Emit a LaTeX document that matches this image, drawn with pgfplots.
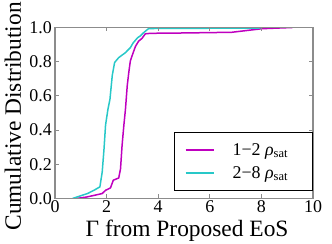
\documentclass[border=0pt]{standalone}
\usepackage{fontspec}
\setmainfont{Liberation Serif}
\usepackage{pgfplots}
\pgfplotsset{compat=1.18}
\definecolor{mm}{RGB}{191,0,191}
\definecolor{cc}{RGB}{40,200,200}
\definecolor{spine}{RGB}{140,140,140}
\begin{document}
\begin{tikzpicture}
\begin{axis}[
 name=ax, at={(0,0)}, anchor=south west,
 scale only axis, width=258bp, height=171bp,
 xmin=0, xmax=10, ymin=0, ymax=1,
 xtick={0,2,4,6,8,10}, ytick={0,0.2,0.4,0.6,0.8,1.0},
 y tick label style={/pgf/number format/fixed, /pgf/number format/fixed zerofill, /pgf/number format/precision=1},
 /pgf/number format/assume math mode=true,
 axis on top,
 tick align=inside, major tick length=4bp,
 every tick/.style={spine, line width=0.8bp},
 axis line style={spine, line width=1.5bp},
 tick label style={font=\fontsize{18}{18}\selectfont},
 x tick label style={anchor=north, inner sep=0pt, yshift=-2bp},
 y tick label style={anchor=east, inner sep=0pt, xshift=-3bp},
 label style={font=\fontsize{23.5}{23.5}\selectfont},
 xlabel={Γ from Proposed EoS},
 ylabel={Cumulative Distribution},
 xlabel style={at={(axis description cs:0.512,-0.225)}, anchor=base},
 ylabel style={at={(axis description cs:-0.163,0.48)}, anchor=center},
 legend style={at={(rel axis cs:1,0.045)}, anchor=south east, draw=black, line width=0.8bp, fill=white, inner xsep=0pt, inner ysep=6bp, row sep=0pt, column sep=0pt, font=\fontsize{18}{18}\selectfont, nodes={inner sep=0pt}},
 legend cell align=left,
 legend image code/.code={\path[draw=none,fill=none] (0bp,-11.5bp) rectangle (58bp,11.5bp); \draw[#1, line width=1.8bp] (11bp,0bp) -- (39bp,0bp);},
]
\addplot[mm, line width=1.5bp] coordinates {
(0.81,0) (1.2,0.008) (1.45,0.016) (1.83,0.029) (1.96,0.048) (2.15,0.062) (2.26,0.107) (2.47,0.12) (2.54,0.174) (2.6,0.31) (2.67,0.43) (2.73,0.52) (2.8,0.66) (2.86,0.737) (2.92,0.804) (3.03,0.853) (3.12,0.89) (3.24,0.92) (3.37,0.936) (3.5,0.963) (3.7,0.966) (5,0.968) (6.85,0.972) (7.3,0.98) (8.03,0.993) (9.2,1.0)
};
\addlegendentry{\makebox[80bp][l]{1−2 {\itshape ρ}\textsubscript{sat}}}
\addplot[cc, line width=1.5bp] coordinates {
(0.68,0) (1.0,0.016) (1.26,0.029) (1.51,0.048) (1.74,0.068) (1.83,0.155) (1.90,0.29) (1.96,0.43) (2.05,0.52) (2.13,0.58) (2.22,0.72) (2.31,0.795) (2.47,0.824) (2.73,0.853) (2.92,0.882) (3.03,0.91) (3.2,0.94) (3.3,0.95) (3.43,0.969) (3.63,0.994) (7.9,0.997) (8.0,1.0)
};
\addlegendentry{\makebox[80bp][l]{2−8 {\itshape ρ}\textsubscript{sat}}}
\end{axis}
\pgfresetboundingbox
\path (-55bp,-45.5bp) rectangle (277bp,198.5bp);
\end{tikzpicture}
\end{document}
